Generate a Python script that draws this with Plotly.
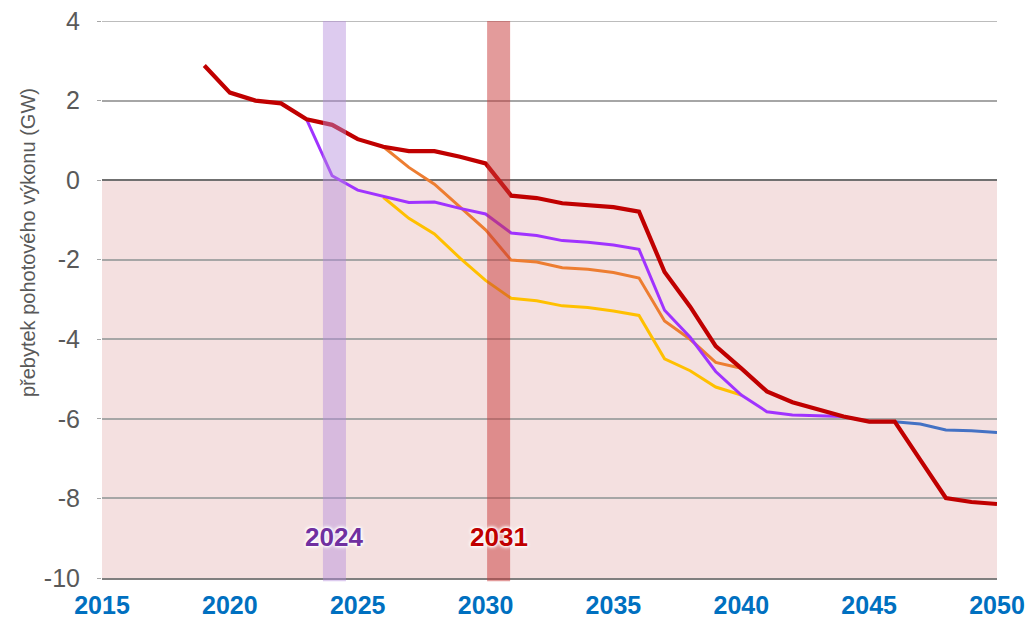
import plotly.graph_objects as go

years = list(range(2019, 2051))

red = [2.88, 2.20, 2.00, 1.93, 1.53, 1.39, 1.03, 0.84, 0.73, 0.73, 0.59, 0.42,
       -0.39, -0.45, -0.58, -0.62, -0.68, -0.79, -2.31, -3.18, -4.17, -4.73,
       -5.31, -5.58, -5.76, -5.94, -6.07, -6.07, -7.03, -7.99, -8.09, -8.14]

blue = [None] * 26 + [-6.07, -6.07, -6.13, -6.28, -6.30, -6.34]

purple = [None] * 4 + [1.53, 0.11, -0.25, -0.41, -0.56, -0.55, -0.71, -0.85,
                       -1.33, -1.39, -1.52, -1.56, -1.63, -1.74, -3.27, -3.95,
                       -4.81, -5.40, -5.82, -5.90, -5.92, -5.94, -6.07] + [None] * 5

orange = [None] * 7 + [0.84, 0.32, -0.10, -0.67, -1.25, -2.01, -2.06, -2.20,
                       -2.24, -2.32, -2.46, -3.54, -4.00, -4.58, -4.73] + [None] * 10

yellow = [None] * 7 + [-0.43, -0.96, -1.35, -1.96, -2.52, -2.97, -3.03, -3.16,
                       -3.20, -3.29, -3.40, -4.49, -4.79, -5.20, -5.40] + [None] * 10

x_ticks = [2015, 2020, 2025, 2030, 2035, 2040, 2045, 2050]
y_ticks = [4, 2, 0, -2, -4, -6, -8, -10]
y_ticktext = ["4", "2", "0", "-2", "-4", "-6", "-8", "-10"]

band_labels = ["2024", "2031"]
band_spans = [(2023.64, 2024.54), (2030.06, 2030.96)]
band_fill = ["rgba(180,140,220,0.45)", "rgba(200,55,55,0.5)"]
band_text_color = ["#7030A0", "#C00000"]

FONT = "Arial, Liberation Sans, sans-serif"
GRID = "#A6A6A6"

fig = go.Figure()

series = [
    (yellow, "#FFC000", 3),
    (orange, "#ED7D31", 3),
    (purple, "#A033FF", 3),
    (blue, "#4472C4", 3),
    (red, "#C00000", 4.2),
]
for vals, col, w in series:
    fig.add_trace(go.Scatter(x=years, y=vals, mode="lines",
                             line=dict(color=col, width=w),
                             connectgaps=False, showlegend=False,
                             hoverinfo="skip", cliponaxis=False))

# pink negative area
fig.add_shape(type="rect", xref="x", yref="y", x0=2015, x1=2050, y0=-10, y1=0,
              fillcolor="rgb(244,224,224)", line=dict(width=0), layer="below")
# top gridline (at the range edge)
fig.add_shape(type="line", xref="x", yref="y", x0=2015, x1=2050, y0=y_ticks[0], y1=y_ticks[0],
              line=dict(color=GRID, width=1.5), layer="below")

for (x0, x1), fc, lab, tc in zip(band_spans, band_fill, band_labels, band_text_color):
    fig.add_shape(type="rect", xref="x", yref="paper", x0=x0, x1=x1,
                  y0=-0.006, y1=1, fillcolor=fc, line=dict(width=0), layer="above")
    fig.add_annotation(x=(x0 + x1) / 2, y=-8.96, xref="x", yref="y", text=lab,
                       showarrow=False,
                       font=dict(family=FONT, size=26, color=tc, weight="bold",
                                 shadow="0 0 3px white, 0 0 3px white, 0 0 4px white, 0 0 5px white"))

fig.add_annotation(text="přebytek pohotového výkonu (GW)", xref="paper", yref="paper",
                   x=-0.0827, y=0.603, xanchor="center", yanchor="middle",
                   textangle=-90, showarrow=False,
                   font=dict(family=FONT, size=20, color="#595959"))

fig.update_xaxes(range=[2015, 2050], tickvals=x_ticks, showgrid=False,
                 zeroline=False, showline=True, linecolor="#7F7F7F", linewidth=2,
                 tickfont=dict(family=FONT, size=25, color="#0070C0", weight="bold"),
                 ticks="", ticklabelstandoff=4, automargin=False,
                 ticklabeloverflow="allow")
fig.update_yaxes(range=[-10, 4], tickvals=y_ticks, ticktext=y_ticktext, showgrid=True,
                 gridcolor=GRID, gridwidth=1.5,
                 zeroline=True, zerolinecolor="#707070", zerolinewidth=2,
                 ticks="outside", ticklen=4, tickcolor=GRID,
                 tickfont=dict(family=FONT, size=25, color="#595959"),
                 ticklabelstandoff=12, showline=False, automargin=False,
                 ticklabeloverflow="allow")

fig.update_layout(width=1028, height=618,
                  margin=dict(l=102, r=31, t=21, b=40, autoexpand=False),
                  plot_bgcolor="white", paper_bgcolor="white",
                  showlegend=False)

fig.write_html("out.html", config={"displayModeBar": False},
               post_script="document.body.style.margin='0';document.body.style.overflow='hidden';")
